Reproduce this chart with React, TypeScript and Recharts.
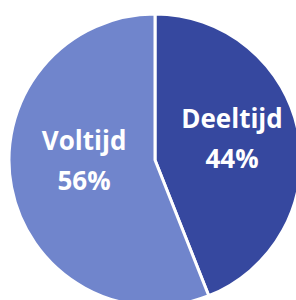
import React from 'react';
import { PieChart, Pie, Cell } from 'recharts';

const categories = ['Deeltijd', 'Voltijd'];
const values = [44, 56];
const colors = ['#36489F', '#7085CC'];

const data = categories.map((name, i) => ({ name, value: values[i] }));

const RAD = Math.PI / 180;

const renderLabel = (props: any) => {
  const { cx, cy, midAngle, outerRadius, index, name, percent } = props;
  const r = outerRadius * (index === 0 ? 0.545 : 0.486);
  const ang = index === 0 ? midAngle + 3.8 : midAngle - 9.2;
  const x = cx + r * Math.cos(-ang * RAD);
  const y = cy + r * Math.sin(-ang * RAD);
  return (
    <text
      x={x}
      y={y}
      fill="#FFFFFF"
      textAnchor="middle"
      fontFamily="'Open Sans', sans-serif"
      fontWeight="bold"
      fontSize={26}
    >
      <tspan x={x} dy={-12}>{name}</tspan>
      <tspan x={x} dy={40}>{`${Math.round(percent * 100)}%`}</tspan>
    </text>
  );
};

export default function App() {
  return (
    <div style={{ position: 'absolute', left: 0, top: 0, width: 296, height: 300, background: '#fff', overflow: 'hidden' }}>
      <PieChart width={296} height={300} margin={{ top: 0, right: 0, bottom: 0, left: 0 }}>
        <Pie
          data={data}
          dataKey="value"
          nameKey="name"
          cx={155}
          cy={160}
          outerRadius={146}
          startAngle={90}
          endAngle={-270}
          stroke="#FFFFFF"
          strokeWidth={3}
          label={renderLabel}
          labelLine={false}
          isAnimationActive={false}
        >
          {data.map((d, i) => (
            <Cell key={d.name} fill={colors[i]} />
          ))}
        </Pie>
      </PieChart>
    </div>
  );
}
